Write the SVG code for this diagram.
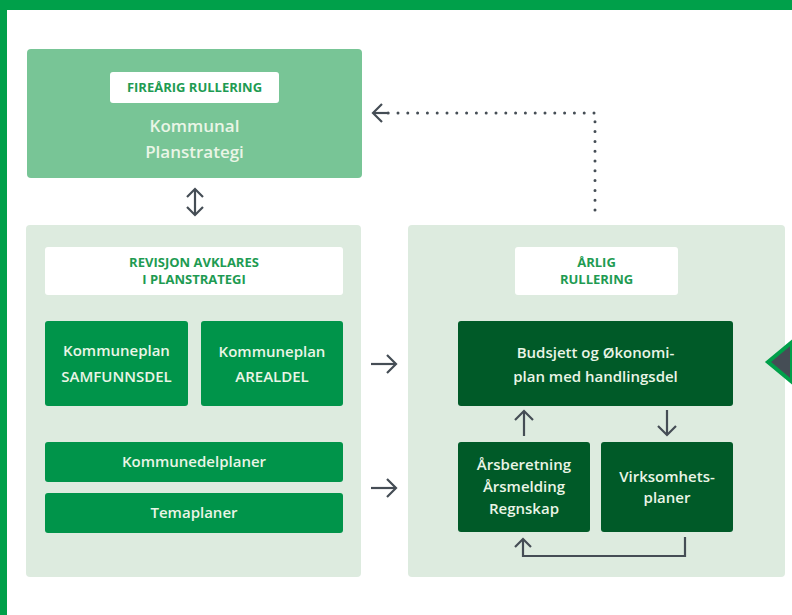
<svg xmlns="http://www.w3.org/2000/svg" width="792" height="615" viewBox="0 0 792 615">
<defs>
<style>
.t{font-family:"Open Sans","Noto Sans","Liberation Sans",sans-serif;text-anchor:middle}
.lbl{font-size:13px;font-weight:700;fill:#1E9B52}
.bx{font-size:15px;font-weight:600;fill:#EAF5E6}
.big{font-size:17px;font-weight:600;fill:#EAF5E6}
.panel{fill:#DDEBDF}
.mid{fill:#00944A}
.dark{fill:#005A28}
.conn{fill:none;stroke:#454D55;stroke-width:2.2;stroke-linecap:butt}
.head{fill:none;stroke:#454D55;stroke-width:2.2;stroke-linejoin:miter}
</style>
</defs>
<rect x="0" y="0" width="792" height="615" fill="#FFFFFF"/>
<rect x="0" y="0" width="792" height="10" fill="#00A04A"/>
<rect x="0" y="0" width="7" height="615" fill="#00A04A"/>

<g id="planstrategi">
<rect x="27" y="49" width="335" height="129" rx="4" fill="#78C596"/>
<rect x="110" y="72" width="169" height="31" rx="3" fill="#FFFFFF"/>
<text class="t lbl" x="194.5" y="92">FIREÅRIG RULLERING</text>
<text class="t big" x="194.5" y="132">Kommunal</text>
<text class="t big" x="194.5" y="158">Planstrategi</text>
</g>

<g id="left-panel">
<rect class="panel" x="26" y="225" width="335" height="352" rx="4"/>
<rect x="45" y="247" width="298" height="48" rx="3" fill="#FFFFFF"/>
<text class="t lbl" x="194" y="267">REVISJON AVKLARES</text>
<text class="t lbl" x="194" y="284">I PLANSTRATEGI</text>
</g>

<g id="samfunnsdel">
<rect class="mid" x="45" y="321" width="143" height="85" rx="3"/>
<text class="t bx" x="116.5" y="356">Kommuneplan</text>
<text class="t bx" x="116.5" y="382">SAMFUNNSDEL</text>
</g>
<g id="arealdel">
<rect class="mid" x="201" y="321" width="142" height="85" rx="3"/>
<text class="t bx" x="272" y="357">Kommuneplan</text>
<text class="t bx" x="272" y="382">AREALDEL</text>
</g>
<g id="kommunedelplaner">
<rect class="mid" x="45" y="442" width="298" height="40" rx="3"/>
<text class="t bx" x="194" y="467">Kommunedelplaner</text>
</g>
<g id="temaplaner">
<rect class="mid" x="45" y="493" width="298" height="40" rx="3"/>
<text class="t bx" x="194" y="518">Temaplaner</text>
</g>

<g id="right-panel">
<rect class="panel" x="408" y="225" width="377" height="352" rx="4"/>
<rect x="515" y="247" width="163" height="48" rx="3" fill="#FFFFFF"/>
<text class="t lbl" x="596.5" y="267">ÅRLIG</text>
<text class="t lbl" x="596.5" y="284">RULLERING</text>
</g>

<g id="budsjett">
<rect class="dark" x="458" y="321" width="275" height="85" rx="3"/>
<text class="t bx" x="595.5" y="358">Budsjett og Økonomi-</text>
<text class="t bx" x="595.5" y="382">plan med handlingsdel</text>
</g>
<g id="arsberetning">
<rect class="dark" x="458" y="442" width="132" height="90" rx="3"/>
<text class="t bx" x="524" y="470">Årsberetning</text>
<text class="t bx" x="524" y="492">Årsmelding</text>
<text class="t bx" x="524" y="514">Regnskap</text>
</g>
<g id="virksomhetsplaner">
<rect class="dark" x="601" y="442" width="132" height="90" rx="3"/>
<text class="t bx" x="667" y="482">Virksomhets-</text>
<text class="t bx" x="667" y="503">planer</text>
</g>

<g id="pointer">
<polygon points="768,362 792,342 792,382" fill="#454D55" stroke="#00A04A" stroke-width="4" stroke-linejoin="miter"/>
</g>

<g id="connectors">
<line class="conn" x1="195" y1="189" x2="195" y2="215"/>
<polyline class="head" points="187,197 195,189 203,197"/>
<polyline class="head" points="187,207 195,215 203,207"/>
<line class="conn" x1="371" y1="364" x2="396" y2="364"/>
<polyline class="head" points="387,355 396,364 387,373"/>
<line class="conn" x1="371" y1="488" x2="396" y2="488"/>
<polyline class="head" points="387,479 396,488 387,497"/>
<line class="conn" x1="524" y1="411" x2="524" y2="436"/>
<polyline class="head" points="515,420 524,411 533,420"/>
<line class="conn" x1="667" y1="410" x2="667" y2="435"/>
<polyline class="head" points="658,426 667,435 676,426"/>
<polyline class="conn" points="685,537 685,556 523,556 523,539" stroke-width="2.6"/>
<polyline class="head" points="515,547 523,539 531,547"/>
<polyline points="595,210 595,113 380,113" fill="none" stroke="#454D55" stroke-width="3" stroke-linecap="round" stroke-dasharray="0 9.8"/>
<line class="conn" x1="373" y1="113" x2="388" y2="113"/>
<polyline class="head" points="382,104 373,113 382,122"/>
</g>
</svg>
